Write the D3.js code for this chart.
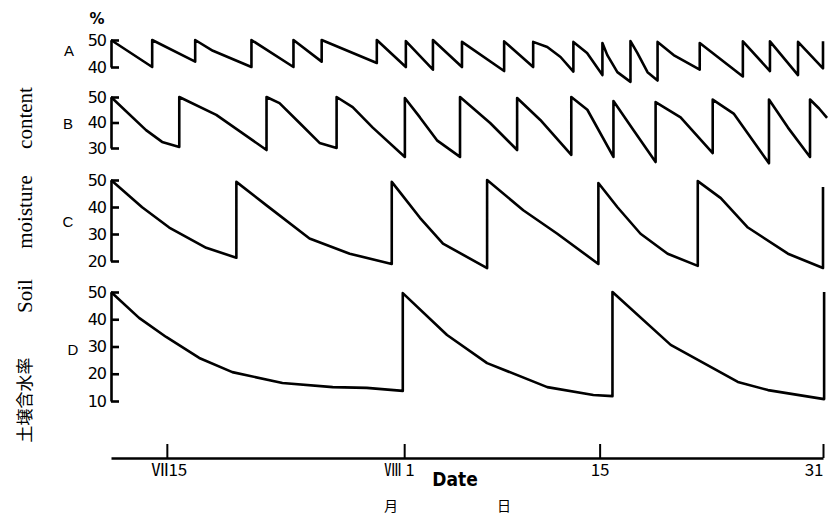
<!DOCTYPE html>
<html>
<head>
<meta charset="utf-8">
<script src="https://cdn.jsdelivr.net/npm/d3@7"></script>
<style>
  body { margin: 0; background: #fff; }
  svg { display: block; }
</style>
</head>
<body>
<div id="chart"></div>
<script>
// day numbers: July 1 = 1, Aug 1 = 32, Aug 31 = 62
const xTickDays = [15, 32, 46, 62];
const xTickLabels = ["Ⅶ15", "Ⅷ 1", "15", "31"];

const panelNames = ["A", "B", "C", "D"];
const ticksA = [40, 50];
const ticksB = [30, 40, 50];
const ticksC = [20, 30, 40, 50];
const ticksD = [10, 20, 30, 40, 50];

// series A: day, soil moisture %
const daysA = [11, 13.95, 13.95, 17.03, 17.03, 18.3, 21.06, 21.06, 24.07, 24.07, 26.09, 26.09,
  30.04, 30.04, 32.12, 32.12, 34.06, 34.06, 36.14, 36.14, 39.16, 39.16, 41.24, 41.24, 42.25, 43.2,
  44.12, 44.12, 45.1, 46.2, 46.2, 46.55, 47.27, 48.21, 48.21, 48.7, 49.43, 50.15, 50.15, 51.3,
  53.17, 53.17, 56.26, 56.26, 58.2, 58.2, 60.21, 60.21, 62, 62];
const valsA = [50, 40, 50, 42, 50, 46, 40, 50, 40, 50, 42, 50,
  41.5, 50, 40, 49.6, 39, 50, 40, 49.3, 38.5, 49.5, 40, 49.3, 47.4, 43.7,
  38.3, 49.3, 45.2, 37, 48.9, 44.4, 38.1, 34.5, 49.6, 45.2, 38.1, 35, 49.3, 44.4,
  39, 48.9, 36.5, 49.5, 38.5, 49.5, 37, 49.3, 39.5, 49.5];

// series B
const daysB = [11, 13.51, 14.66, 15.89, 15.89, 18.54, 22.14, 22.14, 23.07, 24.51, 25.94, 27.16, 27.16,
  28.31, 29.75, 32.05, 32.05, 33.13, 34.35, 36.0, 36.0, 38.16, 40.09, 40.09, 41.75, 43.97, 43.97,
  45.12, 46.99, 46.99, 48.43, 50.01, 50.01, 51.8, 54.1, 54.1, 55.6, 58.13, 58.13, 59.49, 61.07, 61.07,
  61.72, 62.29];
const valsB = [50, 37, 32.4, 30.4, 50, 43, 29.2, 50, 47.6, 39.8, 32, 30, 50,
  46, 38, 26.5, 49.6, 42, 33, 26.5, 50, 39.8, 29.2, 49.6, 41, 27.3, 50,
  45, 26.5, 48.4, 37, 24.5, 48, 42, 28, 49, 43.5, 24, 49, 38, 26.5, 49,
  45.5, 41.8];

// series C
const daysC = [11, 13.23, 15.17, 17.82, 19.98, 19.98, 22.14, 25.22, 28.1, 31.11, 31.11,
  31.69, 33.13, 34.78, 37.94, 37.94, 40.53, 42.97, 45.91, 45.91, 47.28, 48.93, 50.87, 53.03, 53.03,
  54.68, 56.62, 59.49, 62, 62];
const valsC = [50, 39.9, 32.4, 24.9, 21.2, 49.3, 40.6, 28.3, 22.7, 18.9, 49.3,
  45.5, 36, 26.4, 17.4, 50, 38.8, 30.1, 18.9, 48.9, 39.9, 30.1, 22.7, 18.2, 49.6,
  43.3, 32.4, 22.7, 17.4, 47.4];

// series D
const daysD = [11, 13.01, 14.95, 17.32, 19.69, 23.28, 26.88, 29.32, 31.9, 31.9,
  35.07, 37.94, 42.25, 45.55, 46.92, 46.92, 51.09, 55.9, 58.06, 62.08, 62.08];
const valsD = [50, 40.5, 33.5, 25.8, 20.6, 16.6, 15.1, 14.8, 13.7, 49.6,
  34.2, 23.9, 15.1, 12.2, 11.8, 50, 30.6, 17, 14, 10.7, 50];

const W = 829, H = 522;
const svg = d3.select("#chart").append("svg")
  .attr("width", W).attr("height", H)
  .style("background", "#fff");

const x = d3.scaleLinear().domain([11, 62]).range([111, 823]);

// panel layout (pixel rows)
const panels = [
  { name: panelNames[0], days: daysA, vals: valsA, ticks: ticksA, range: [67, 40], labelX: 69, dy: -1 },
  { name: panelNames[1], days: daysB, vals: valsB, ticks: ticksB, range: [148, 97], labelX: 68, dy: 3 },
  { name: panelNames[2], days: daysC, vals: valsC, ticks: ticksC, range: [261, 180], labelX: 68, dy: 3 },
  { name: panelNames[3], days: daysD, vals: valsD, ticks: ticksD, range: [401, 292], labelX: 73, dy: 5 }
];

const numFont = "'DejaVu Sans', sans-serif";

panels.forEach(p => {
  const y = d3.scaleLinear()
    .domain(d3.extent(p.ticks))
    .range(p.range);

  const g = svg.append("g").attr("transform", `translate(${x(11)},0)`);
  g.call(d3.axisLeft(y).tickValues(p.ticks).tickSizeInner(-8).tickSizeOuter(0).tickPadding(5));
  g.select(".domain").attr("stroke", "#000").attr("stroke-width", 2.6);
  g.selectAll(".tick line").attr("stroke", "#000").attr("stroke-width", 2.6);
  g.selectAll(".tick text")
    .attr("fill", "#000")
    .style("font-family", numFont)
    .style("font-size", "16px")
    .style("letter-spacing", "-1px");

  const pts = p.days.map((d, i) => [d, p.vals[i]]);
  svg.append("path")
    .datum(pts)
    .attr("fill", "none")
    .attr("stroke", "#000")
    .attr("stroke-width", 2.6)
    .attr("stroke-linejoin", "round")
    .attr("d", d3.line().x(d => x(d[0])).y(d => y(d[1])));

  const mid = (p.range[0] + p.range[1]) / 2;
  svg.append("text")
    .attr("x", p.labelX)
    .attr("y", mid + p.dy)
    .attr("text-anchor", "middle")
    .attr("dominant-baseline", "middle")
    .attr("fill", "#000")
    .style("font-family", "'Liberation Sans', sans-serif")
    .style("font-size", "15px")
    .text(p.name);
});

// percent sign
svg.append("text")
  .attr("x", 97).attr("y", 24)
  .attr("text-anchor", "middle")
  .style("font-family", numFont)
  .style("font-size", "15px")
  .style("font-weight", "bold")
  .text("%");

// x axis
const xg = svg.append("g").attr("transform", "translate(0,458)");
xg.call(d3.axisBottom(x).tickValues(xTickDays)
  .tickFormat((d, i) => xTickLabels[i])
  .tickSizeInner(-14).tickSizeOuter(0).tickPadding(6));
xg.select(".domain").attr("stroke", "#000").attr("stroke-width", 2.6);
xg.selectAll(".tick line").attr("stroke", "#000").attr("stroke-width", 2);
xg.selectAll(".tick text")
  .attr("fill", "#000")
  .style("font-family", "'Liberation Sans Narrow', 'Noto Sans CJK JP', sans-serif")
  .style("font-size", "17px")
  .attr("text-anchor", (d, i) => i === 3 ? "end" : "middle")
  .attr("dx", (d, i) => [2, -5, 0, 0][i]);

svg.append("text")
  .attr("x", 455).attr("y", 486)
  .attr("text-anchor", "middle")
  .style("font-family", "'DejaVu Sans Condensed', 'DejaVu Sans', sans-serif")
  .style("font-weight", "bold")
  .style("font-size", "19px")
  .text("Date");

svg.append("text")
  .attr("x", 391).attr("y", 511)
  .attr("text-anchor", "middle")
  .style("font-family", "'Noto Sans CJK JP', sans-serif")
  .style("font-size", "14px")
  .text("月");
svg.append("text")
  .attr("x", 504).attr("y", 511)
  .attr("text-anchor", "middle")
  .style("font-family", "'Noto Sans CJK JP', sans-serif")
  .style("font-size", "14px")
  .text("日");

// y title (rotated)
const yTitle = [
  { t: "content", c: 118, f: "'Liberation Serif', serif" },
  { t: "moisture", c: 212, f: "'Liberation Serif', serif" },
  { t: "Soil", c: 296, f: "'Liberation Serif', serif" },
  { t: "土壌含水率", c: 400, f: "'Noto Sans CJK JP', sans-serif" }
];
yTitle.forEach(o => {
  svg.append("text")
    .attr("transform", `translate(25,${o.c}) rotate(-90)`)
    .attr("text-anchor", "middle")
    .attr("dy", "0.35em")
    .attr("fill", "#000")
    .style("font-family", o.f)
    .style("font-size", o.t === "土壌含水率" ? "17px" : "21px")
    .text(o.t);
});
</script>
</body>
</html>
